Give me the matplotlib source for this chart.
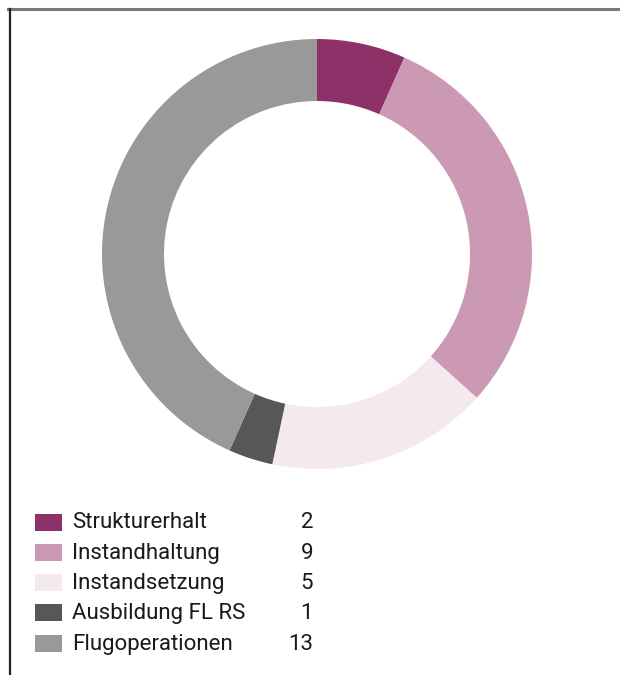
import matplotlib
matplotlib.use("Agg")
import matplotlib.pyplot as plt
from matplotlib.patches import Rectangle
from matplotlib.lines import Line2D

# daten
labels = ["Strukturerhalt", "Instandhaltung", "Instandsetzung", "Ausbildung FL RS", "Flugoperationen"]
values = [2, 9, 5, 1, 13]
colors = ["#8f3169", "#cc99b5", "#f5e9f0", "#575757", "#999999"]

W, H = 620, 675
plt.rcParams['font.family'] = ['Roboto', 'DejaVu Sans']

fig = plt.figure(figsize=(W / 100, H / 100), dpi=100)

# rahmen oben und links
fig.add_artist(Line2D([8 / W, 1], [1 - 8.5 / H, 1 - 8.5 / H], color="#777777", lw=2.2))
fig.add_artist(Line2D([10 / W, 10 / W], [0, 1 - 8.5 / H], color="#222222", lw=1.6))

# donut
cx, cy, r = 317, 254, 215
ax = fig.add_axes([(cx - r) / W, (H - cy - r) / H, 2 * r / W, 2 * r / H])
ax.pie(values, colors=colors, startangle=90, counterclock=False, radius=1,
       wedgeprops=dict(width=62 / r, linewidth=0))
ax.set_xlim(-1, 1)
ax.set_ylim(-1, 1)
ax.set_aspect("equal")
ax.axis("off")

# legende
y0, dy = 522, 30.3
for i, (lab, val, col) in enumerate(zip(labels, values, colors)):
    yc = y0 + i * dy
    fig.add_artist(Rectangle((35 / W, 1 - (yc + 8.5) / H), 27 / W, 17 / H,
                             transform=fig.transFigure, color=col, lw=0))
    fig.text(72 / W, 1 - (yc + 1) / H, lab, fontsize=16, va="center", ha="left", color="#1a1a1a")
    fig.text(313 / W, 1 - (yc + 1) / H, str(val), fontsize=16, va="center", ha="right", color="#1a1a1a")

fig.savefig("out.png", dpi=100)
